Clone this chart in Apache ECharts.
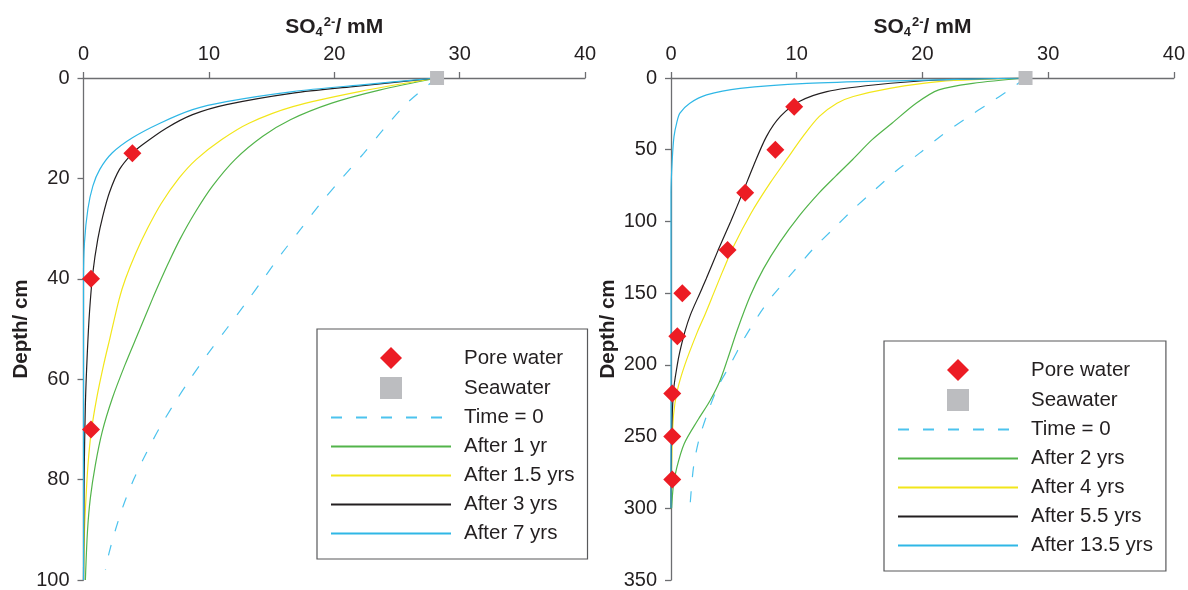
<!DOCTYPE html>
<html><head><meta charset="utf-8">
<script src="https://cdn.jsdelivr.net/npm/echarts@6/dist/echarts.min.js"></script>
<style>html,body{margin:0;padding:0;background:#fff}#c{width:1188px;height:590px}</style>
</head><body><div id="c"></div>
<script>
// ---------- Data (SO4 2- in mM vs depth in cm) ----------
const xTicks = [0, 10, 20, 30, 40];
const seawater = [28.2, 0];

// Left panel
const L_pore_conc  = [3.9, 0.6, 0.6];
const L_pore_depth = [15, 40, 70];
const L_t0_depth = [0, 5, 10, 15, 20, 25, 30, 35, 40, 45, 50, 55, 60, 65, 70, 75, 80, 85, 90, 95, 98];
const L_t0_conc  = [28.2, 25.8, 24.0, 22.35, 20.6, 18.9, 17.35, 15.8, 14.35, 12.9, 11.4, 9.9, 8.5, 7.2, 6.0, 4.95, 4.0, 3.2, 2.55, 2.0, 1.75];
const L_1yr_depth = [0, 2.4, 5, 8.3, 11.6, 16.2, 21.5, 26.8, 32.1, 36.7, 40, 44, 50.6, 57.2, 63.8, 70.4, 77, 83.6, 90.2, 100];
const L_1yr_conc  = [28.2, 23.6, 19.8, 16.5, 14.3, 12.1, 10.3, 8.9, 7.7, 6.8, 6.2, 5.5, 4.4, 3.3, 2.3, 1.5, 0.95, 0.55, 0.32, 0.15];
const L_15yr_depth = [0, 2.7, 5.7, 9, 12.3, 16.2, 20, 25, 30, 35, 40, 44, 51.9, 57.2, 63.8, 70.4, 77, 83.6, 90, 100];
const L_15yr_conc  = [28.2, 22.0, 16.7, 13.2, 11.0, 9.0, 7.6, 6.2, 5.1, 4.15, 3.35, 2.85, 2.1, 1.6, 1.05, 0.62, 0.36, 0.2, 0.08, 0];
const L_3yr_depth = [0, 1.7, 3, 5.3, 7.3, 10, 13.3, 15, 18.2, 22.8, 27.5, 32.1, 38.7, 46.6, 55, 65, 80, 100];
const L_3yr_conc  = [28.2, 21.5, 16.7, 11.4, 8.7, 6.6, 4.7, 3.9, 2.87, 2.07, 1.54, 1.14, 0.75, 0.48, 0.3, 0.15, 0.05, 0];
const L_7yr_depth = [0, 1.4, 2.7, 4.7, 6.3, 9, 11.9, 14.9, 18.2, 21.5, 26.1, 32.7, 40, 100];
const L_7yr_conc  = [28.2, 22.0, 16.7, 11.4, 8.7, 6.1, 3.9, 2.3, 1.3, 0.75, 0.35, 0.08, 0, 0];

// Right panel
const R_pore_conc  = [9.8, 8.3, 5.9, 4.5, 0.9, 0.5, 0.1, 0.1, 0.1];
const R_pore_depth = [20, 50, 80, 120, 150, 180, 220, 250, 280];
const R_t0_depth = [0, 8.3, 17.6, 27.9, 39.5, 52.2, 64.9, 78.8, 91.5, 105.3, 119.2, 135.4, 151.6, 165, 182, 200, 216, 235, 253, 272, 300];
const R_t0_conc  = [28.2, 26.9, 25.3, 23.5, 21.6, 19.8, 17.9, 16.1, 14.5, 12.9, 11.3, 9.7, 8.1, 7.0, 5.8, 4.7, 3.7, 2.85, 2.2, 1.78, 1.5];
const R_2yr_depth = [0, 3.7, 8.3, 17.6, 31.4, 43, 56.8, 68.4, 79.9, 96.1, 114.6, 133.1, 152, 175, 196, 212, 225, 239, 255, 272, 285, 300];
const R_2yr_conc  = [28.2, 24.0, 21.3, 19.5, 17.6, 16.0, 14.45, 13.1, 11.8, 10.2, 8.65, 7.35, 6.3, 5.3, 4.5, 3.85, 3.1, 2.1, 1.05, 0.45, 0.18, 0.05];
const R_4yr_depth = [0, 2.5, 7.2, 12.9, 17.6, 26.8, 40.7, 56.8, 73, 93.8, 117, 135, 150, 165, 177, 200, 218, 235, 258, 300];
const R_4yr_conc  = [28.2, 21.3, 17.4, 14.5, 13.2, 11.8, 10.5, 9.2, 7.9, 6.4, 5.0, 4.1, 3.4, 2.7, 2.1, 1.1, 0.5, 0.2, 0.08, 0];
const R_55yr_depth = [0, 1.4, 4.9, 9.5, 16.4, 26.8, 40.7, 61.5, 80, 100, 120, 140, 150, 165, 177, 191, 200, 218, 250, 300];
const R_55yr_conc  = [28.2, 21.3, 16.1, 12.4, 10.2, 8.7, 7.6, 6.55, 5.7, 4.75, 3.75, 2.8, 2.3, 1.55, 1.1, 0.7, 0.5, 0.2, 0.05, 0];
const R_135yr_depth = [0, 1.8, 3.7, 7.2, 11.8, 17.6, 24.5, 31.4, 40.7, 56.8, 80, 300];
const R_135yr_conc  = [28.2, 18.7, 10.8, 5.5, 2.83, 1.5, 0.71, 0.45, 0.24, 0.1, 0, 0];

const legendLeft  = ['Pore water', 'Seawater', 'Time = 0', 'After 1 yr', 'After 1.5 yrs', 'After 3 yrs', 'After 7 yrs'];
const legendRight = ['Pore water', 'Seawater', 'Time = 0', 'After 2 yrs', 'After 4 yrs', 'After 5.5 yrs', 'After 13.5 yrs'];

// ---------- Styling ----------
const F = '"Liberation Sans", Arial, Helvetica, sans-serif';
const TXT = '#231f20';
const AX = '#6d6e71';
const C_T0 = '#4cc3ee', C_G = '#52b44a', C_Y = '#f2e61a', C_K = '#231f20', C_C = '#2fb7e6';
// legend icons: bounding box fixed to the 120x22 legend slot so the marker keeps its shape
const ICON_DIAMOND = 'path://M0 0M120 22M60 0L71 11L60 22L49 11Z';
const ICON_SQUARE  = 'path://M0 0M120 22M49 0L71 0L71 22L49 22Z';
const pairs = (xs, ds) => xs.map((v, i) => [v, ds[i]]);

function xAx(gi) {
  return {
    type: 'value', gridIndex: gi, position: 'top', min: 0, max: 40, interval: 10,
    name: '{a|SO}{s|4}{p|2-}{a|/ mM}', nameLocation: 'middle', nameGap: 39,
    nameTextStyle: { rich: {
      a: { fontSize: 21, fontWeight: 'bold', color: TXT, fontFamily: F },
      s: { fontSize: 13, fontWeight: 'bold', color: TXT, fontFamily: F, padding: [10, 0, 0, 0] },
      p: { fontSize: 13, fontWeight: 'bold', color: TXT, fontFamily: F, padding: [0, 0, 10, 1] }
    } },
    axisLine: { show: true, onZero: false, lineStyle: { color: AX, width: 1.3 } },
    axisTick: { show: true, inside: false, length: 6, lineStyle: { color: AX, width: 1.3 } },
    axisLabel: { fontSize: 20, color: TXT, margin: 14, fontFamily: F },
    splitLine: { show: false }
  };
}
function yAx(gi, max, interval) {
  return {
    type: 'value', gridIndex: gi, inverse: true, min: 0, max: max, interval: interval,
    name: 'Depth/ cm', nameLocation: 'middle', nameGap: 52,
    nameTextStyle: { fontSize: 20.5, fontWeight: 'bold', color: TXT, fontFamily: F },
    axisLine: { show: true, onZero: false, lineStyle: { color: AX, width: 1.3 } },
    axisTick: { show: true, inside: false, length: 6, lineStyle: { color: AX, width: 1.3 } },
    axisLabel: { fontSize: 20, color: TXT, margin: 14, fontFamily: F },
    splitLine: { show: false }
  };
}
function line(name, gi, xs, ds, color, dashed, w) {
  return {
    type: 'line', name: name, xAxisIndex: gi, yAxisIndex: gi, data: pairs(xs, ds),
    symbol: 'none', smooth: 0.3, clip: true,
    lineStyle: { color: color, width: w || 1.2, type: dashed ? [11, 14] : 'solid' },
    itemStyle: { color: color }, z: 2
  };
}
function legend(names, left, top) {
  return {
    data: names.map(n => n === 'Pore water' ? { name: n, icon: ICON_DIAMOND }
      : n === 'Seawater' ? { name: n, icon: ICON_SQUARE }
      : { name: n, itemStyle: { opacity: 0 } }),
    orient: 'vertical', left: left, top: top,
    itemWidth: 120, itemHeight: 22, itemGap: 8,
    padding: [18, 13, 15, 13], borderColor: '#58595b', borderWidth: 1.2, borderRadius: 0,
    backgroundColor: '#fff', selectedMode: false,
    textStyle: { fontSize: 20.5, color: TXT, fontFamily: F, padding: [0, 0, 0, 8] }
  };
}
function pore(gi, xs, ds) {
  return { type: 'scatter', name: 'Pore water', xAxisIndex: gi, yAxisIndex: gi, symbol: 'diamond', symbolSize: 18,
    data: pairs(xs, ds), itemStyle: { color: '#ec1c24', opacity: 1 }, z: 4, clip: false };
}
function sea(gi) {
  return { type: 'scatter', name: 'Seawater', xAxisIndex: gi, yAxisIndex: gi, symbol: 'rect', symbolSize: 14,
    data: [seawater], itemStyle: { color: '#bcbdc0', opacity: 1 }, z: 3, clip: false };
}

const option = {
  animation: false,
  backgroundColor: '#fff',
  grid: [
    { left: 83.5, top: 78, width: 501.5, height: 505 },
    { left: 671, top: 78, width: 504, height: 505 }
  ],
  xAxis: [xAx(0), xAx(1)],
  yAxis: [yAx(0, 100, 20), yAx(1, 350, 50)],
  legend: [legend(legendLeft, 317, 329), legend(legendRight, 884, 341)],
  series: [
    line('Time = 0', 0, L_t0_conc, L_t0_depth, C_T0, true),
    line('After 1 yr', 0, L_1yr_conc, L_1yr_depth, C_G),
    line('After 1.5 yrs', 0, L_15yr_conc, L_15yr_depth, C_Y),
    line('After 3 yrs', 0, L_3yr_conc, L_3yr_depth, C_K),
    line('After 7 yrs', 0, L_7yr_conc, L_7yr_depth, C_C),
    pore(0, L_pore_conc, L_pore_depth),
    sea(0),
    line('Time = 0', 1, R_t0_conc, R_t0_depth, C_T0, true),
    line('After 2 yrs', 1, R_2yr_conc, R_2yr_depth, C_G),
    line('After 4 yrs', 1, R_4yr_conc, R_4yr_depth, C_Y),
    line('After 5.5 yrs', 1, R_55yr_conc, R_55yr_depth, C_K),
    line('After 13.5 yrs', 1, R_135yr_conc, R_135yr_depth, C_C),
    pore(1, R_pore_conc, R_pore_depth),
    sea(1)
  ]
};
const chart = echarts.init(document.getElementById('c'), null, { renderer: 'canvas' });
chart.setOption(option);
</script></body></html>
